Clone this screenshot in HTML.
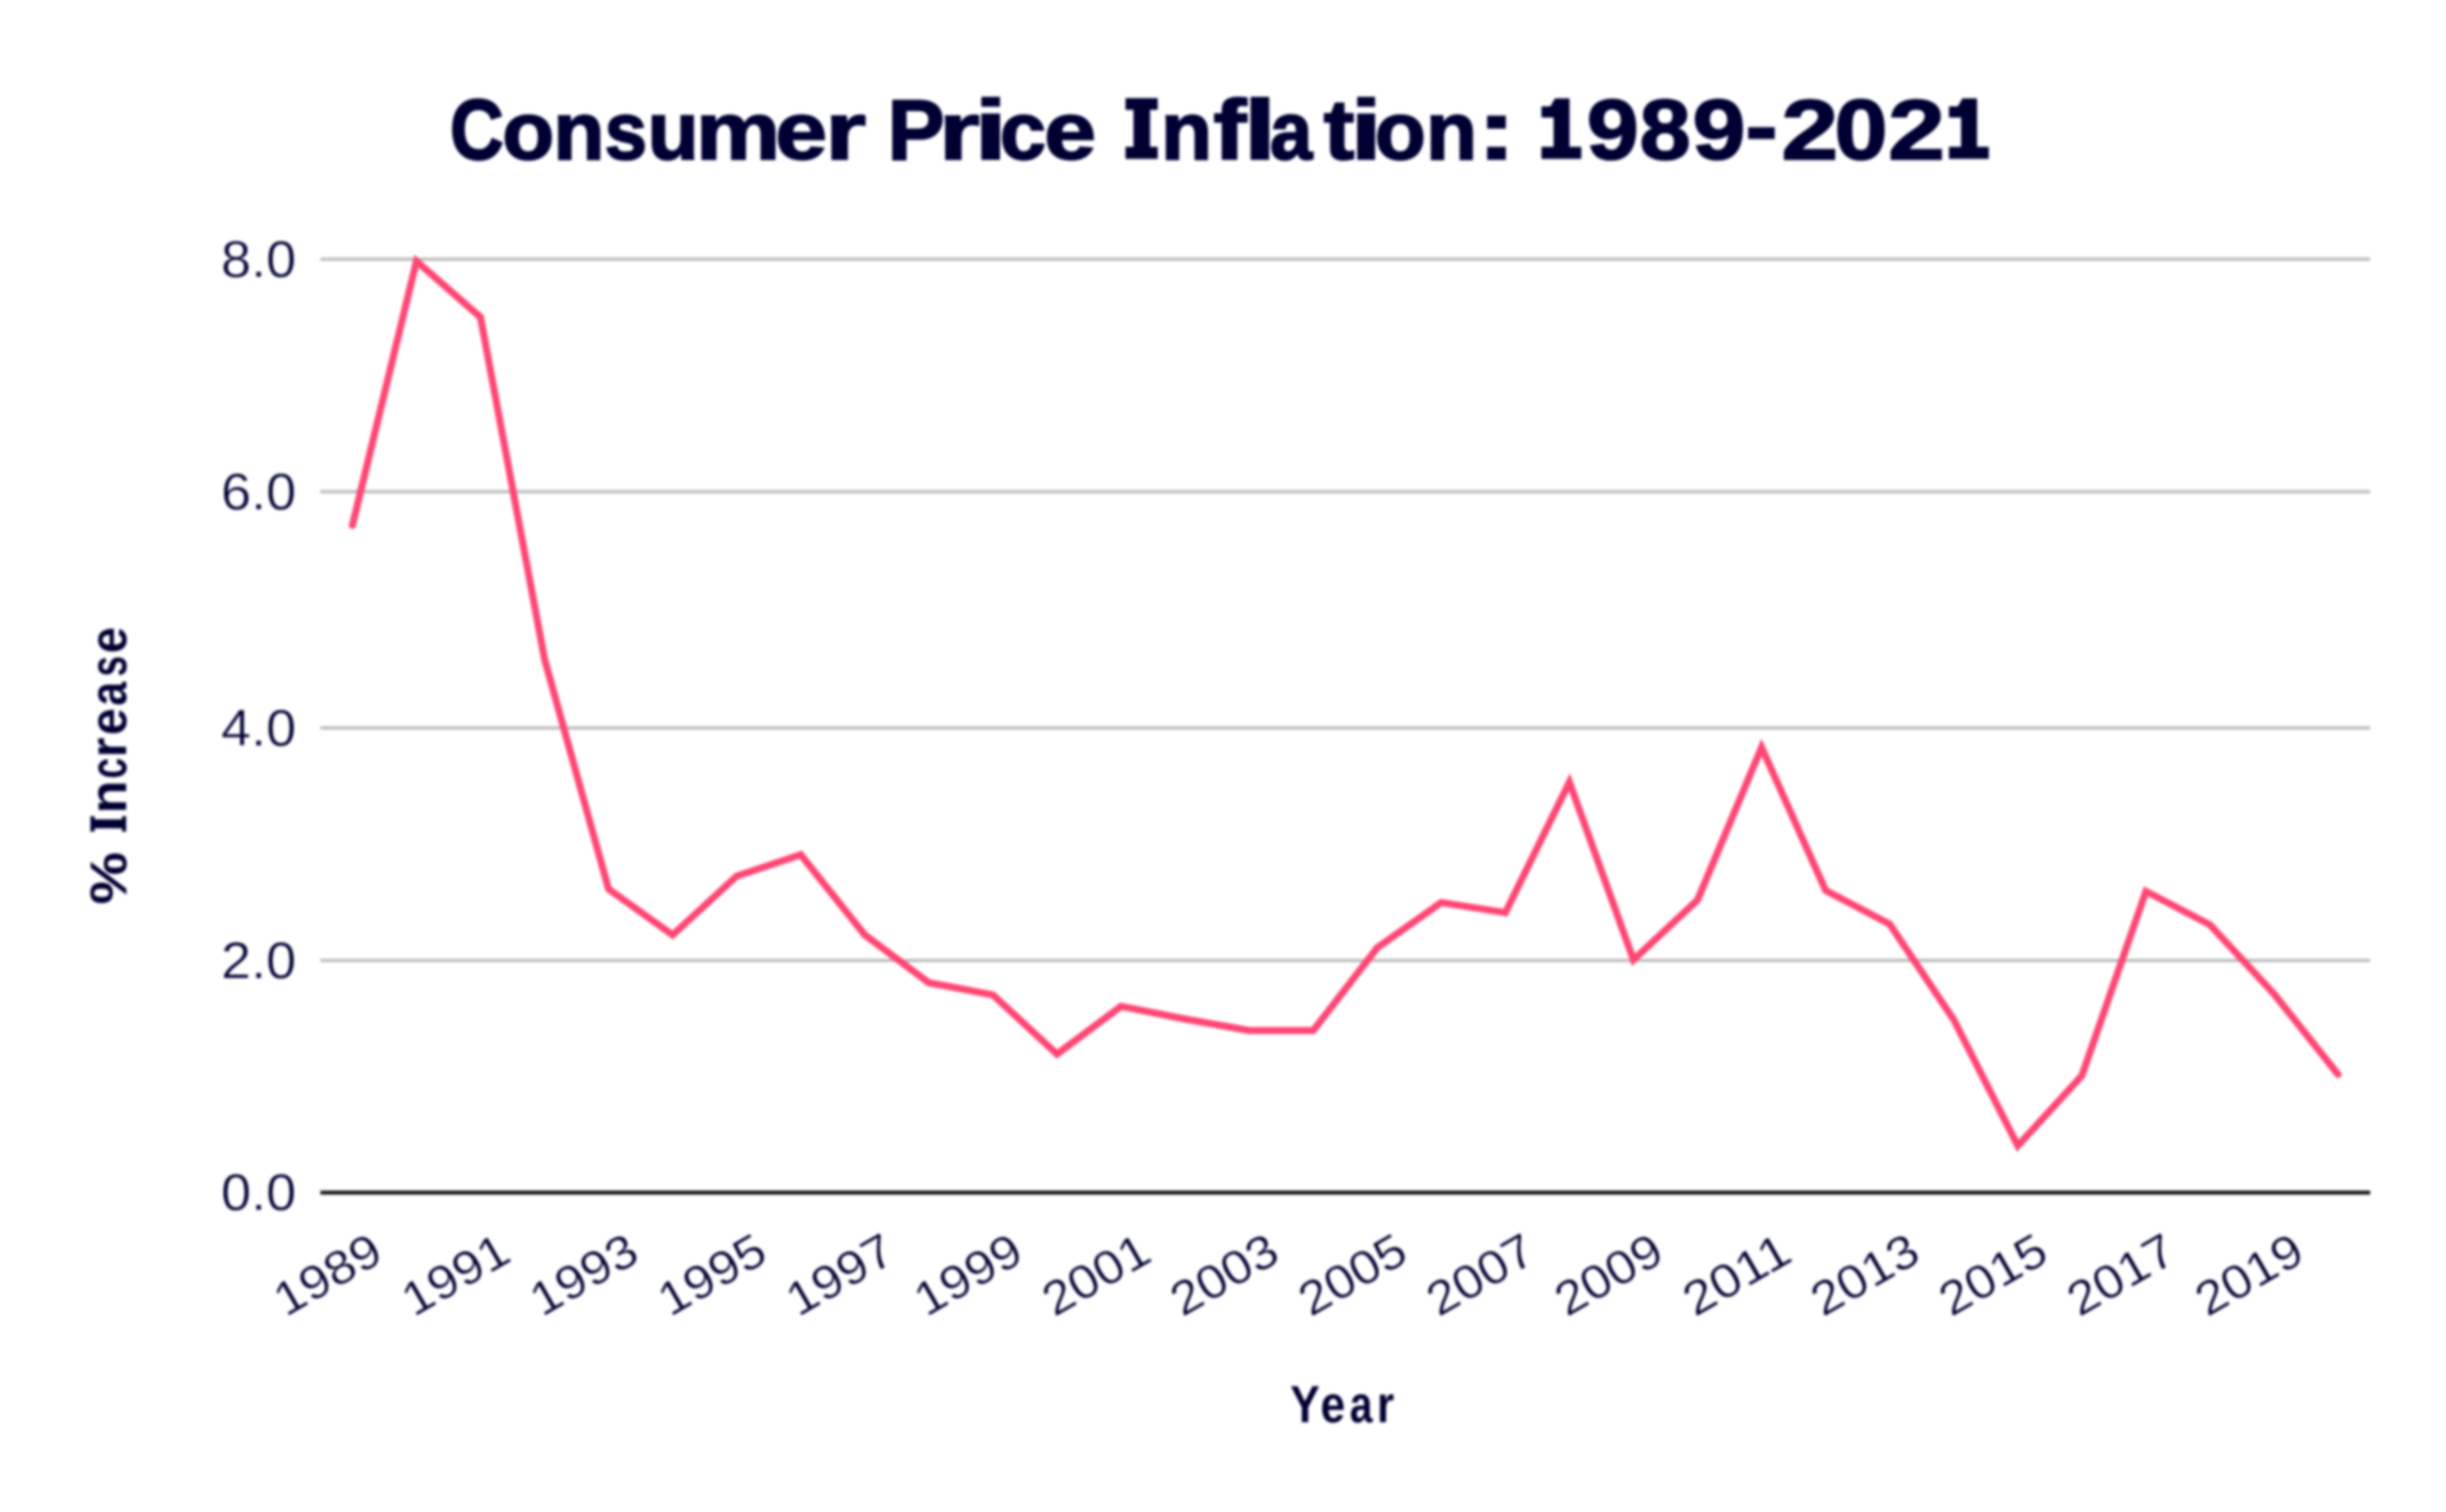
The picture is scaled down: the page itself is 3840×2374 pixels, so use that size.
<!DOCTYPE html>
<html><head><meta charset="utf-8"><style>
html,body{margin:0;padding:0;background:#fff;width:3840px;height:2374px;overflow:hidden}
svg{display:block;filter:blur(2.0px);}
text{font-family:"Liberation Sans",sans-serif;fill:#000033}
.t{font-weight:bold;font-size:134px}
.yl{font-size:81px;fill:#000030;stroke:#fff;stroke-width:0.8px}
.xl{font-size:74.5px;fill:#000030;stroke:#fff;stroke-width:0.8px}
.at{font-weight:bold;font-size:81px}
</style></head><body>
<svg width="3840" height="2374" viewBox="0 0 3840 2374">
<rect width="3840" height="2374" fill="#ffffff"/>
<g class="t">
<polygon fill="#000033" points="1767,154 1817.5,154 1817.5,172.5 1805.5,172.5 1805.5,230.5 1817.5,230.5 1817.5,249.5 1767,249.5 1767,230.5 1779.5,230.5 1779.5,172.5 1767,172.5"/>
<polygon fill="#000033" points="2420.0,167 2434.0,167 2441.0,154.5 2464.0,154.5 2464.0,230.5 2482.5,230.5 2482.5,249.5 2420.0,249.5 2420.0,230.5 2439.0,230.5 2439.0,184.5 2420.0,184.5"/>
<polygon fill="#000033" points="3059.7,167 3073.7,167 3080.7,154.5 3103.7,154.5 3103.7,230.5 3122.2,230.5 3122.2,249.5 3059.7,249.5 3059.7,230.5 3078.7,230.5 3078.7,184.5 3059.7,184.5"/>
<text transform="translate(706.42 250) scale(0.8698 1)" x="0" y="0" stroke="#000033" stroke-width="3.45">C</text>
<text transform="translate(788.38 250) scale(0.9974 0.95)" x="0" y="0" stroke="#000033" stroke-width="3.01">o</text>
<text transform="translate(868.60 250) scale(0.9844 0.95)" x="0" y="0" stroke="#000033" stroke-width="3.05">n</text>
<text transform="translate(949.29 250) scale(0.8940 0.95)" x="0" y="0" stroke="#000033" stroke-width="3.36">s</text>
<text transform="translate(1016.52 250) scale(0.9844 0.95)" x="0" y="0" stroke="#000033" stroke-width="3.05">u</text>
<text transform="translate(1092.15 250) scale(1.1156 0.95)" x="0" y="0" stroke="#000033" stroke-width="2.69">m</text>
<text transform="translate(1216.74 250) scale(1.1003 0.95)" x="0" y="0" stroke="#000033" stroke-width="2.73">e</text>
<text transform="translate(1295.25 250) scale(1.2401 0.95)" x="0" y="0" stroke="#000033" stroke-width="2.42">r</text>
<text transform="translate(1393.29 250) scale(1.0048 1)" x="0" y="0" stroke="#000033" stroke-width="2.99">P</text>
<text transform="translate(1473.85 250) scale(1.2401 0.95)" x="0" y="0" stroke="#000033" stroke-width="2.42">r</text>
<text transform="translate(1528.82 250) scale(1.4305 1)" x="0" y="0" stroke="#000033" stroke-width="2.10">i</text>
<text transform="translate(1569.60 250) scale(0.9745 0.95)" x="0" y="0" stroke="#000033" stroke-width="3.08">c</text>
<text transform="translate(1638.94 250) scale(1.1003 0.95)" x="0" y="0" stroke="#000033" stroke-width="2.73">e</text>
<text transform="translate(1822.50 250) scale(0.9844 0.95)" x="0" y="0" stroke="#000033" stroke-width="3.05">n</text>
<text transform="translate(1904.72 250) scale(1.1715 1)" x="0" y="0" stroke="#000033" stroke-width="2.56">f</text>
<text transform="translate(1951.47 250) scale(1.4250 1)" x="0" y="0" stroke="#000033" stroke-width="2.11">l</text>
<text transform="translate(1993.80 250) scale(0.8915 0.95)" x="0" y="0" stroke="#000033" stroke-width="3.36">a</text>
<text transform="translate(2078.02 250) scale(1.0858 1)" x="0" y="0" stroke="#000033" stroke-width="2.76">t</text>
<text transform="translate(2119.48 250) scale(1.3597 1)" x="0" y="0" stroke="#000033" stroke-width="2.21">i</text>
<text transform="translate(2158.27 250) scale(0.9806 0.95)" x="0" y="0" stroke="#000033" stroke-width="3.06">o</text>
<text transform="translate(2238.40 250) scale(0.9844 0.95)" x="0" y="0" stroke="#000033" stroke-width="3.05">n</text>
<text transform="translate(2318.21 250) scale(1.3957 1)" x="0" y="0" stroke="#000033" stroke-width="2.15">:</text>
<text transform="translate(2491.00 250) scale(1.0970 1)" x="0" y="0" stroke="#000033" stroke-width="2.73">9</text>
<text transform="translate(2573.92 250) scale(1.0764 1)" x="0" y="0" stroke="#000033" stroke-width="2.79">8</text>
<text transform="translate(2657.11 250) scale(1.1170 1)" x="0" y="0" stroke="#000033" stroke-width="2.69">9</text>
<text transform="translate(2740.05 244) scale(1.1375 1)" x="0" y="0" stroke="#000033" stroke-width="2.64">-</text>
<text transform="translate(2796.62 250) scale(1.2013 1)" x="0" y="0" stroke="#000033" stroke-width="2.50">2</text>
<text transform="translate(2880.07 250) scale(1.1188 1)" x="0" y="0" stroke="#000033" stroke-width="2.68">0</text>
<text transform="translate(2964.12 250) scale(1.2013 1)" x="0" y="0" stroke="#000033" stroke-width="2.50">2</text>
</g>
<g stroke="#bbbbbb" stroke-width="5">
<line x1="503" y1="407" x2="3721" y2="407"/>
<line x1="503" y1="772" x2="3721" y2="772"/>
<line x1="503" y1="1143" x2="3721" y2="1143"/>
<line x1="503" y1="1508" x2="3721" y2="1508"/>
</g>
<line x1="503" y1="1872.5" x2="3721" y2="1872.5" stroke="#0a0a0a" stroke-width="6"/>
<g class="yl" text-anchor="end">
<text x="465" y="434.5" textLength="118" lengthAdjust="spacingAndGlyphs">8.0</text>
<text x="465" y="799.5" textLength="118" lengthAdjust="spacingAndGlyphs">6.0</text>
<text x="465" y="1170.5" textLength="118" lengthAdjust="spacingAndGlyphs">4.0</text>
<text x="465" y="1535.5" textLength="118" lengthAdjust="spacingAndGlyphs">2.0</text>
<text x="465" y="1900.0" textLength="118" lengthAdjust="spacingAndGlyphs">0.0</text>
</g>
<text x="605.2" y="1978" text-anchor="end" transform="rotate(-30 605.2 1978)" class="xl" textLength="181" lengthAdjust="spacingAndGlyphs">1989</text>
<text x="806.3" y="1978" text-anchor="end" transform="rotate(-30 806.3 1978)" class="xl" textLength="181" lengthAdjust="spacingAndGlyphs">1991</text>
<text x="1007.4" y="1978" text-anchor="end" transform="rotate(-30 1007.4 1978)" class="xl" textLength="181" lengthAdjust="spacingAndGlyphs">1993</text>
<text x="1208.6" y="1978" text-anchor="end" transform="rotate(-30 1208.6 1978)" class="xl" textLength="181" lengthAdjust="spacingAndGlyphs">1995</text>
<text x="1409.7" y="1978" text-anchor="end" transform="rotate(-30 1409.7 1978)" class="xl" textLength="181" lengthAdjust="spacingAndGlyphs">1997</text>
<text x="1610.8" y="1978" text-anchor="end" transform="rotate(-30 1610.8 1978)" class="xl" textLength="181" lengthAdjust="spacingAndGlyphs">1999</text>
<text x="1811.9" y="1978" text-anchor="end" transform="rotate(-30 1811.9 1978)" class="xl" textLength="181" lengthAdjust="spacingAndGlyphs">2001</text>
<text x="2013.0" y="1978" text-anchor="end" transform="rotate(-30 2013.0 1978)" class="xl" textLength="181" lengthAdjust="spacingAndGlyphs">2003</text>
<text x="2214.2" y="1978" text-anchor="end" transform="rotate(-30 2214.2 1978)" class="xl" textLength="181" lengthAdjust="spacingAndGlyphs">2005</text>
<text x="2415.3" y="1978" text-anchor="end" transform="rotate(-30 2415.3 1978)" class="xl" textLength="181" lengthAdjust="spacingAndGlyphs">2007</text>
<text x="2616.4" y="1978" text-anchor="end" transform="rotate(-30 2616.4 1978)" class="xl" textLength="181" lengthAdjust="spacingAndGlyphs">2009</text>
<text x="2817.5" y="1978" text-anchor="end" transform="rotate(-30 2817.5 1978)" class="xl" textLength="181" lengthAdjust="spacingAndGlyphs">2011</text>
<text x="3018.6" y="1978" text-anchor="end" transform="rotate(-30 3018.6 1978)" class="xl" textLength="181" lengthAdjust="spacingAndGlyphs">2013</text>
<text x="3219.8" y="1978" text-anchor="end" transform="rotate(-30 3219.8 1978)" class="xl" textLength="181" lengthAdjust="spacingAndGlyphs">2015</text>
<text x="3420.9" y="1978" text-anchor="end" transform="rotate(-30 3420.9 1978)" class="xl" textLength="181" lengthAdjust="spacingAndGlyphs">2017</text>
<text x="3622.0" y="1978" text-anchor="end" transform="rotate(-30 3622.0 1978)" class="xl" textLength="181" lengthAdjust="spacingAndGlyphs">2019</text>

<g class="at">
<g transform="translate(198 1500) rotate(-90)">
<text transform="translate(79.78 0) scale(1.1493 1)" x="0" y="0">%</text>
<text transform="translate(222.55 0) scale(1.0584 1)" x="0" y="0">n</text>
<text transform="translate(277.52 0) scale(0.7213 1)" x="0" y="0">c</text>
<text transform="translate(310.79 0) scale(0.9937 1)" x="0" y="0">r</text>
<text transform="translate(345.63 0) scale(0.9382 1)" x="0" y="0">e</text>
<text transform="translate(391.93 0) scale(0.8312 1)" x="0" y="0">a</text>
<text transform="translate(437.85 0) scale(0.7202 1)" x="0" y="0">s</text>
<text transform="translate(474.30 0) scale(0.9178 1)" x="0" y="0">e</text>
<polygon fill="#000033" points="194.3,-56.0 218.5,-56.0 218.5,-49.5 213.4,-49.5 213.4,-6.5 218.5,-6.5 218.5,0.0 194.3,0.0 194.3,-6.5 199.4,-6.5 199.4,-49.5 194.3,-49.5"/>
</g>
<text transform="translate(2025.41 2233) scale(0.8590 1)" x="0" y="0">Y</text>
<text transform="translate(2072.97 2233) scale(0.8641 1)" x="0" y="0">e</text>
<text transform="translate(2119.02 2233) scale(0.7919 1)" x="0" y="0">a</text>
<text transform="translate(2161.40 2233) scale(0.8615 1)" x="0" y="0">r</text>
</g>
<polyline points="553.2,825.0 653.8,410.0 754.3,498.0 854.9,1035.0 955.4,1396.0 1056.0,1468.0 1156.6,1375.5 1257.1,1342.0 1357.7,1468.0 1458.2,1543.0 1558.8,1562.0 1659.4,1655.0 1759.9,1580.0 1860.5,1600.0 1961.0,1618.0 2061.6,1618.0 2162.2,1488.0 2262.7,1417.0 2363.3,1433.0 2463.8,1228.0 2564.4,1507.0 2665.0,1413.0 2765.5,1173.5 2866.1,1398.0 2966.6,1451.0 3067.2,1601.0 3167.8,1799.0 3268.3,1689.0 3368.9,1399.5 3469.4,1452.0 3570.0,1560.5 3670.6,1687.0" fill="none" stroke="#ff4674" stroke-width="11" stroke-linejoin="miter" stroke-miterlimit="10" stroke-linecap="round"/>
</svg>
</body></html>
